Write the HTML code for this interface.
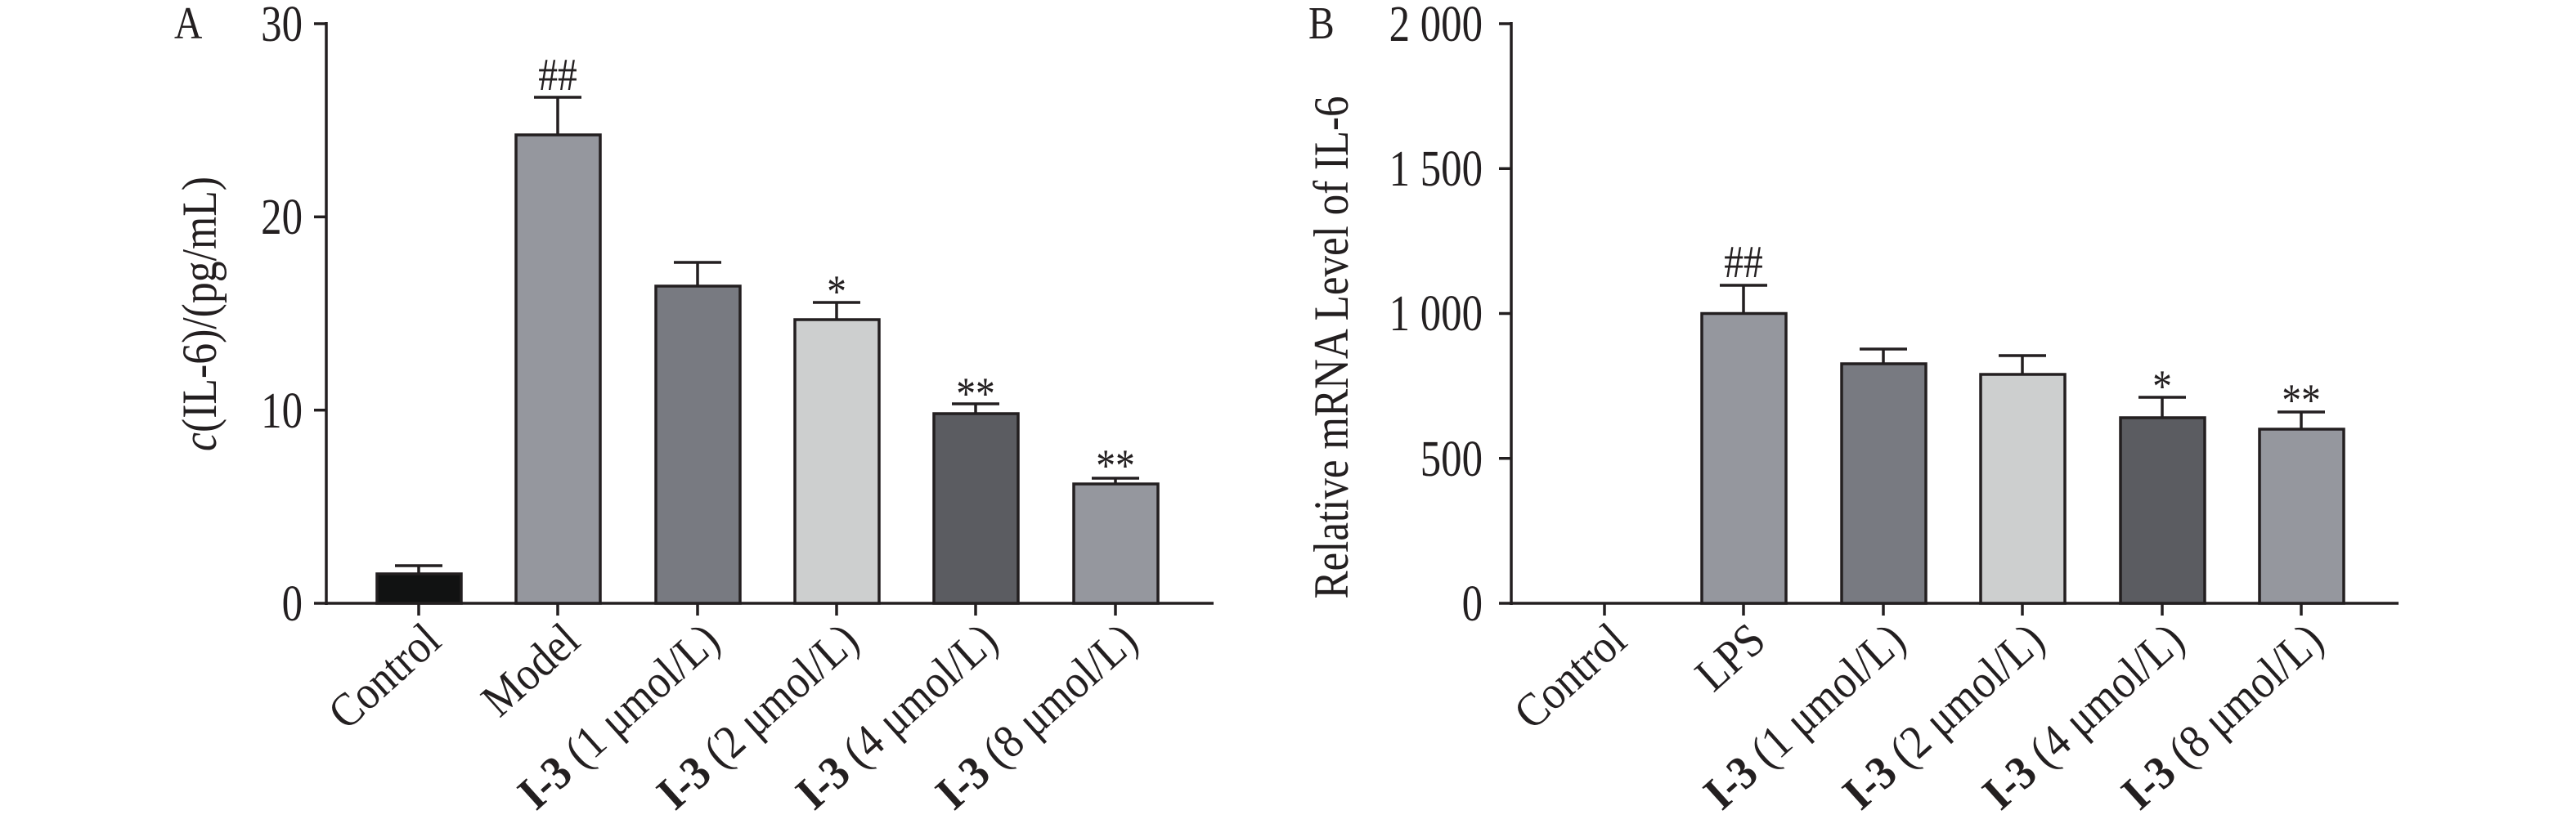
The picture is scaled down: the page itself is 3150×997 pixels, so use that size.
<!DOCTYPE html>
<html><head><meta charset="utf-8"><style>
html,body{margin:0;padding:0;background:#fff;}
svg{display:block;}
text{font-family:"Liberation Serif",serif;fill:#231f20;}
</style></head><body>
<svg width="3150" height="997" viewBox="0 0 3150 997" xmlns="http://www.w3.org/2000/svg">
<g stroke="#231f20" stroke-width="3.5" fill="none">
<line x1="399" y1="27" x2="399" y2="740"/>
<line x1="384" y1="738" x2="1484" y2="738"/>
<line x1="384" y1="29" x2="399" y2="29"/>
<line x1="384" y1="265.3" x2="399" y2="265.3"/>
<line x1="384" y1="501.7" x2="399" y2="501.7"/>
<line x1="512" y1="738" x2="512" y2="753"/><line x1="682" y1="738" x2="682" y2="753"/><line x1="853" y1="738" x2="853" y2="753"/><line x1="1023" y1="738" x2="1023" y2="753"/><line x1="1193" y1="738" x2="1193" y2="753"/><line x1="1364" y1="738" x2="1364" y2="753"/>
<line x1="1848" y1="27" x2="1848" y2="740"/>
<line x1="1833" y1="738" x2="2933" y2="738"/>
<line x1="1833" y1="29" x2="1848" y2="29"/>
<line x1="1833" y1="206.25" x2="1848" y2="206.25"/>
<line x1="1833" y1="383.5" x2="1848" y2="383.5"/>
<line x1="1833" y1="560.75" x2="1848" y2="560.75"/>
<line x1="1962" y1="738" x2="1962" y2="753"/><line x1="2132" y1="738" x2="2132" y2="753"/><line x1="2303" y1="738" x2="2303" y2="753"/><line x1="2473" y1="738" x2="2473" y2="753"/><line x1="2644" y1="738" x2="2644" y2="753"/><line x1="2814" y1="738" x2="2814" y2="753"/>
</g>
<g stroke="#231f20" stroke-width="3.5">
<line x1="512" y1="702" x2="512" y2="692"/><line x1="483" y1="692" x2="541" y2="692"/>
<line x1="682" y1="165" x2="682" y2="119"/><line x1="653" y1="119" x2="711" y2="119"/>
<line x1="853" y1="350" x2="853" y2="321"/><line x1="824" y1="321" x2="882" y2="321"/>
<line x1="1023" y1="391" x2="1023" y2="370"/><line x1="994" y1="370" x2="1052" y2="370"/>
<line x1="1193" y1="506" x2="1193" y2="494"/><line x1="1164" y1="494" x2="1222" y2="494"/>
<line x1="1364" y1="592" x2="1364" y2="585"/><line x1="1335" y1="585" x2="1393" y2="585"/>
<rect x="461" y="702" width="103" height="36" fill="#111212"/>
<rect x="631" y="165" width="103" height="573" fill="#95979e"/>
<rect x="802" y="350" width="103" height="388" fill="#787a81"/>
<rect x="972" y="391" width="103" height="347" fill="#cdcfcf"/>
<rect x="1142" y="506" width="103" height="232" fill="#5b5c61"/>
<rect x="1313" y="592" width="103" height="146" fill="#95979e"/>
<line x1="2132" y1="383" x2="2132" y2="349"/><line x1="2103" y1="349" x2="2161" y2="349"/>
<line x1="2303" y1="445" x2="2303" y2="427"/><line x1="2274" y1="427" x2="2332" y2="427"/>
<line x1="2473" y1="458" x2="2473" y2="435"/><line x1="2444" y1="435" x2="2502" y2="435"/>
<line x1="2644" y1="511" x2="2644" y2="486"/><line x1="2615" y1="486" x2="2673" y2="486"/>
<line x1="2814" y1="525" x2="2814" y2="504"/><line x1="2785" y1="504" x2="2843" y2="504"/>
<rect x="2081" y="383.5" width="103" height="354.5" fill="#95979e"/>
<rect x="2252" y="445" width="103" height="293" fill="#787a81"/>
<rect x="2422" y="458" width="103" height="280" fill="#cdcfcf"/>
<rect x="2593" y="511" width="103" height="227" fill="#5b5c61"/>
<rect x="2763" y="525" width="103" height="213" fill="#95979e"/>
</g>
<text transform="translate(213,47) scale(0.85,1)" font-size="56">A</text>
<text transform="translate(1600,47) scale(0.85,1)" font-size="56">B</text>
<g font-size="62" text-anchor="end">
<text transform="translate(370,50) scale(0.82,1)">30</text>
<text transform="translate(370,286) scale(0.82,1)">20</text>
<text transform="translate(370,523) scale(0.82,1)">10</text>
<text transform="translate(370,759) scale(0.82,1)">0</text>
<text transform="translate(1813,50) scale(0.82,1)">2 000</text>
<text transform="translate(1813,227) scale(0.82,1)">1 500</text>
<text transform="translate(1813,404) scale(0.82,1)">1 000</text>
<text transform="translate(1813,582) scale(0.82,1)">500</text>
<text transform="translate(1813,759) scale(0.82,1)">0</text>
</g>
<text transform="translate(264,384) rotate(-90)" font-size="60" text-anchor="middle" textLength="336" lengthAdjust="spacingAndGlyphs"><tspan font-style="italic">c</tspan>(IL-6)/(pg/mL)</text>
<text transform="translate(1648,425) rotate(-90)" font-size="60" text-anchor="middle" textLength="615" lengthAdjust="spacingAndGlyphs">Relative mRNA Level of IL-6</text>
<g font-size="56" text-anchor="middle">
<text transform="translate(682,110) scale(0.85,1)">##</text>
<text transform="translate(1023,375) scale(0.85,1)">*</text>
<text transform="translate(1193,500) scale(0.85,1)">**</text>
<text transform="translate(1364,588) scale(0.85,1)">**</text>
<text transform="translate(2132,339) scale(0.85,1)">##</text>
<text transform="translate(2644,491) scale(0.85,1)">*</text>
<text transform="translate(2814,508) scale(0.85,1)">**</text>
</g>
<g font-size="58" text-anchor="end">
<text transform="translate(542,788) rotate(-42) scale(0.9,1)">Control</text>
<text transform="translate(712,788) rotate(-42) scale(0.9,1)">Model</text>
<text transform="translate(883,788) rotate(-42) scale(0.9,1)"><tspan font-weight="bold">I-3</tspan> (1 μmol/L)</text>
<text transform="translate(1053,788) rotate(-42) scale(0.9,1)"><tspan font-weight="bold">I-3</tspan> (2 μmol/L)</text>
<text transform="translate(1223,788) rotate(-42) scale(0.9,1)"><tspan font-weight="bold">I-3</tspan> (4 μmol/L)</text>
<text transform="translate(1394,788) rotate(-42) scale(0.9,1)"><tspan font-weight="bold">I-3</tspan> (8 μmol/L)</text>
<text transform="translate(1992,788) rotate(-42) scale(0.9,1)">Control</text>
<text transform="translate(2162,788) rotate(-42) scale(0.9,1)">LPS</text>
<text transform="translate(2333,788) rotate(-42) scale(0.9,1)"><tspan font-weight="bold">I-3</tspan> (1 μmol/L)</text>
<text transform="translate(2503,788) rotate(-42) scale(0.9,1)"><tspan font-weight="bold">I-3</tspan> (2 μmol/L)</text>
<text transform="translate(2674,788) rotate(-42) scale(0.9,1)"><tspan font-weight="bold">I-3</tspan> (4 μmol/L)</text>
<text transform="translate(2844,788) rotate(-42) scale(0.9,1)"><tspan font-weight="bold">I-3</tspan> (8 μmol/L)</text>
</g>
</svg>
</body></html>
